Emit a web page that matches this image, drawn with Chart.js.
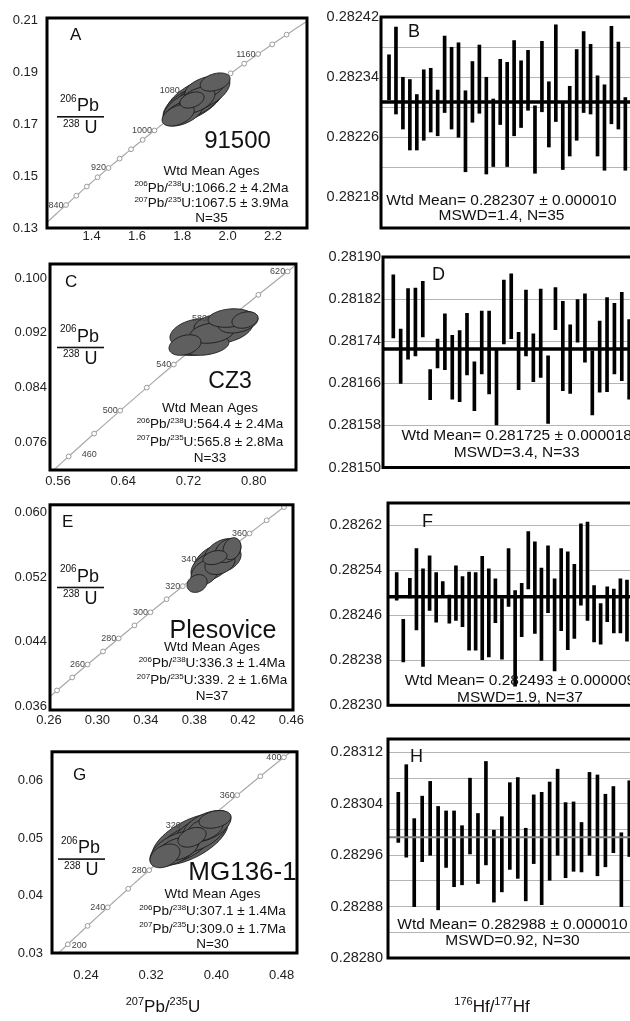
<!DOCTYPE html>
<html>
<head>
<meta charset="utf-8">
<title>Zircon U-Pb and Hf standards</title>
<script src="https://cdn.jsdelivr.net/npm/chart.js@4.4.1/dist/chart.umd.min.js"></script>
<style>
  html, body { margin: 0; padding: 0; background: #fff; }
  #fig { position: relative; width: 630px; height: 1021px; overflow: hidden; }
  #fig canvas { position: absolute; }
</style>
</head>
<body>
<div id="fig"></div>
<script>
const FONT = '"Liberation Sans", Arial, Helvetica, sans-serif';

// ---------- U-Pb concordia panels (left column) ----------
// error ellipses: [207Pb/235U, 206Pb/238U, 2s x, 2s y, rho]
const ticksA_x = [1.4, 1.6, 1.8, 2.0, 2.2];
const ticksA_y = [0.13, 0.15, 0.17, 0.19, 0.21];
const agesA = [840, 860, 880, 900, 920, 940, 960, 980, 1000, 1020, 1040, 1060, 1080, 1100, 1120, 1140, 1160, 1180, 1200];
const ageLabelsA = [840, 920, 1000, 1080, 1160];
const ellipsesA = [
  [1.856, 0.1795, 0.132, 0.00845, 0.60], [1.812, 0.1764, 0.097, 0.0065, 0.55],
  [1.913, 0.1826, 0.097, 0.0065, 0.55], [1.782, 0.1737, 0.071, 0.0042, 0.45],
  [1.945, 0.1864, 0.066, 0.0035, 0.35], [1.865, 0.1795, 0.079, 0.0050, 0.45],
  [1.843, 0.1795, 0.053, 0.0031, 0.35], [1.878, 0.1810, 0.106, 0.0069, 0.60],
  [1.826, 0.1779, 0.110, 0.0069, 0.60], [1.900, 0.1841, 0.088, 0.0046, 0.45],
  [1.803, 0.1745, 0.088, 0.0050, 0.50], [1.861, 0.1791, 0.119, 0.0073, 0.62]
];

const ticksC_x = [0.56, 0.64, 0.72, 0.80];
const ticksC_y = [0.076, 0.084, 0.092, 0.100];
const agesC = [460, 480, 500, 520, 540, 560, 580, 600, 620];
const ageLabelsC = [460, 500, 540, 580, 620];
const ellipsesC = [
  [0.7341, 0.09095, 0.0343, 0.00225, 0.35], [0.7648, 0.09270, 0.0343, 0.00225, 0.30],
  [0.7807, 0.09358, 0.0245, 0.00160, 0.30], [0.7157, 0.09022, 0.0196, 0.00150, 0.30],
  [0.7488, 0.09198, 0.0270, 0.00150, 0.25], [0.7562, 0.09314, 0.0294, 0.00165, 0.25],
  [0.7402, 0.09022, 0.0294, 0.00150, 0.25], [0.7893, 0.09387, 0.0160, 0.00120, 0.25],
  [0.7709, 0.09416, 0.0270, 0.00135, 0.20], [0.7280, 0.09197, 0.0307, 0.00210, 0.30]
];

const ticksE_x = [0.26, 0.30, 0.34, 0.38, 0.42, 0.46];
const ticksE_y = [0.036, 0.044, 0.052, 0.060];
const agesE = [240, 250, 260, 270, 280, 290, 300, 310, 320, 330, 340, 350, 360, 370, 380];
const ageLabelsE = [260, 280, 300, 320, 340, 360];
const ellipsesE = [
  [0.3954, 0.05382, 0.0165, 0.00223, 0.40], [0.4028, 0.05493, 0.01485, 0.00186, 0.38],
  [0.4077, 0.05531, 0.0107, 0.00149, 0.30], [0.3822, 0.05122, 0.0083, 0.00111, 0.20],
  [0.3888, 0.05258, 0.0116, 0.00161, 0.35], [0.3970, 0.05444, 0.0099, 0.00087, 0.30],
  [0.4061, 0.05432, 0.0124, 0.00161, 0.30], [0.4110, 0.05555, 0.0074, 0.00136, 0.20],
  [0.3912, 0.05333, 0.0140, 0.00173, 0.40], [0.4011, 0.05370, 0.0124, 0.00136, 0.30]
];

const ticksG_x = [0.24, 0.32, 0.40, 0.48];
const ticksG_y = [0.03, 0.04, 0.05, 0.06];
const agesG = [200, 220, 240, 260, 280, 300, 320, 340, 360, 380, 400];
const ageLabelsG = [200, 240, 280, 320, 360, 400];
const ellipsesG = [
  [0.3676, 0.04977, 0.0466, 0.00446, 0.60], [0.3492, 0.04808, 0.0307, 0.00309, 0.55],
  [0.3885, 0.05202, 0.0294, 0.00274, 0.50], [0.3369, 0.04688, 0.0184, 0.00206, 0.35],
  [0.3983, 0.05322, 0.0196, 0.00154, 0.30], [0.3701, 0.05011, 0.0172, 0.00171, 0.35],
  [0.3615, 0.04908, 0.0344, 0.00343, 0.58], [0.3799, 0.05080, 0.0344, 0.00343, 0.58],
  [0.3529, 0.04808, 0.0245, 0.00206, 0.40], [0.3860, 0.05151, 0.0221, 0.00206, 0.40]
];

// ---------- 176Hf/177Hf panels (right column): [low, high] per analysis ----------
const hfB = [
  [0.282310, 0.282370], [0.282291, 0.282407], [0.282271, 0.282340], [0.282243, 0.282337],
  [0.282243, 0.282317], [0.282256, 0.282350], [0.282267, 0.282352], [0.282262, 0.282323],
  [0.282293, 0.282395], [0.282271, 0.282380], [0.282260, 0.282386], [0.282214, 0.282322],
  [0.282280, 0.282361], [0.282292, 0.282383], [0.282211, 0.282340], [0.282221, 0.282311],
  [0.282277, 0.282364], [0.282221, 0.282360], [0.282262, 0.282389], [0.282273, 0.282362],
  [0.282296, 0.282376], [0.282212, 0.282302], [0.282294, 0.282388], [0.282247, 0.282334],
  [0.282281, 0.282410], [0.282217, 0.282306], [0.282235, 0.282328], [0.282256, 0.282377],
  [0.282293, 0.282401], [0.282291, 0.282384], [0.282235, 0.282342], [0.282216, 0.282330],
  [0.282278, 0.282408], [0.282271, 0.282387], [0.282216, 0.282313]
];
const hfD = [
  [0.281746, 0.281866], [0.281660, 0.281763], [0.281706, 0.281840], [0.281712, 0.281841],
  [0.281748, 0.281854], [0.281629, 0.281686], [0.281689, 0.281744], [0.281686, 0.281792],
  [0.281630, 0.281751], [0.281625, 0.281760], [0.281676, 0.281793], [0.281608, 0.281701],
  [0.281678, 0.281797], [0.281640, 0.281797], [0.281581, 0.281725], [0.281735, 0.281856],
  [0.281745, 0.281868], [0.281648, 0.281757], [0.281712, 0.281837], [0.281663, 0.281754],
  [0.281671, 0.281839], [0.281584, 0.281712], [0.281762, 0.281842], [0.281646, 0.281816],
  [0.281641, 0.281771], [0.281738, 0.281819], [0.281700, 0.281830], [0.281600, 0.281721],
  [0.281643, 0.281778], [0.281644, 0.281823], [0.281678, 0.281812], [0.281665, 0.281833],
  [0.281630, 0.281781]
];
const hfF = [
  [0.282487, 0.282536], [0.282377, 0.282453], [0.282491, 0.282526], [0.282434, 0.282579],
  [0.282369, 0.282543], [0.282469, 0.282566], [0.282448, 0.282536], [0.282493, 0.282520],
  [0.282446, 0.282496], [0.282451, 0.282548], [0.282440, 0.282529], [0.282398, 0.282537],
  [0.282398, 0.282536], [0.282381, 0.282565], [0.282386, 0.282543], [0.282447, 0.282525],
  [0.282382, 0.282490], [0.282476, 0.282579], [0.282334, 0.282504], [0.282422, 0.282517],
  [0.282507, 0.282609], [0.282428, 0.282591], [0.282380, 0.282544], [0.282465, 0.282584],
  [0.282361, 0.282525], [0.282433, 0.282579], [0.282399, 0.282573], [0.282419, 0.282551],
  [0.282478, 0.282623], [0.282451, 0.282626], [0.282413, 0.282513], [0.282409, 0.282481],
  [0.282449, 0.282511], [0.282429, 0.282507], [0.282429, 0.282525], [0.282414, 0.282523],
  [0.282440, 0.282530]
];
const hfH = [
  [0.282980, 0.283058], [0.282957, 0.283101], [0.282880, 0.283017], [0.282950, 0.283052],
  [0.282960, 0.283075], [0.282875, 0.283036], [0.282941, 0.283029], [0.282911, 0.283029],
  [0.282914, 0.283006], [0.282962, 0.283080], [0.282916, 0.283025], [0.282945, 0.283106],
  [0.282887, 0.282999], [0.282903, 0.283020], [0.282938, 0.283073], [0.282924, 0.283081],
  [0.282889, 0.283002], [0.282947, 0.283054], [0.282883, 0.283058], [0.282921, 0.283074],
  [0.282960, 0.283094], [0.282925, 0.283042], [0.282935, 0.283043], [0.282934, 0.283011],
  [0.282960, 0.283089], [0.282928, 0.283085], [0.282942, 0.283055], [0.282964, 0.283067],
  [0.282880, 0.282995], [0.282958, 0.283076]
];
const hfMeans = { B: 0.282307, D: 0.281725, F: 0.282493, H: 0.282988 };
const hfLabelsB = [0.28218, 0.28226, 0.28234, 0.28242];
const hfGridB = [0.28222, 0.28226, 0.28230, 0.28234, 0.28238];
const hfLabelsD = [0.28150, 0.28158, 0.28166, 0.28174, 0.28182, 0.28190];
const hfGridD = [0.28158, 0.28166, 0.28174, 0.28182];
const hfLabelsF = [0.28230, 0.28238, 0.28246, 0.28254, 0.28262];
const hfGridF = [0.28238, 0.28246, 0.28254, 0.28262];
const hfLabelsH = [0.28280, 0.28288, 0.28296, 0.28304, 0.28312];
const hfGridH = [0.28284, 0.28288, 0.28292, 0.28296, 0.28300, 0.28304, 0.28308, 0.28312];

// concordia from the U decay constants (per Ma)
const L238 = 1.55125e-4, L235 = 9.8485e-4;
const r206 = t => Math.expm1(L238 * t);
const r207 = t => Math.expm1(L235 * t);

function addCanvas(rect) {
  const c = document.createElement("canvas");
  c.width = rect[2];
  c.height = rect[3];
  c.style.left = rect[0] + "px";
  c.style.top = rect[1] + "px";
  c.style.width = rect[2] + "px";
  c.style.height = rect[3] + "px";
  document.getElementById("fig").appendChild(c);
  return c;
}

// text with superscript pieces: parts = [[text, isSup], ...]
function richText(ctx, parts, x, y, align, size) {
  const sup = Math.round(size * 0.62);
  let w = 0;
  parts.forEach(([t, s]) => {
    ctx.font = (s ? sup : size) + "px " + FONT;
    w += ctx.measureText(t).width;
  });
  let cx = align === "center" ? x - w / 2 : align === "right" ? x - w : x;
  ctx.textAlign = "left";
  ctx.textBaseline = "alphabetic";
  parts.forEach(([t, s]) => {
    ctx.font = (s ? sup : size) + "px " + FONT;
    ctx.fillText(t, cx, s ? y - size * 0.4 : y);
    cx += ctx.measureText(t).width;
  });
}

function plainText(ctx, t, x, y, align, size) {
  ctx.font = size + "px " + FONT;
  ctx.textAlign = align;
  ctx.textBaseline = "alphabetic";
  ctx.fillText(t, x, y);
}

function makeConcordia(p) {
  const [cx, cy, cw, ch] = p.canvas;
  const [fl, ft, fr, fb] = p.frame;
  const canvas = addCanvas(p.canvas);
  const curve = [];
  for (let t = p.curveSpan[0]; t <= p.curveSpan[1]; t += 5) curve.push({ x: r207(t), y: r206(t) });

  const plugin = {
    id: "concordiaExtras",
    afterDatasetsDraw(chart) {
      const { ctx, chartArea: a } = chart;
      const xs = chart.scales.x, ys = chart.scales.y;
      ctx.save();
      ctx.beginPath();
      ctx.rect(a.left, a.top, a.right - a.left, a.bottom - a.top);
      ctx.clip();
      const list = p.ellipses.slice().sort((m, n) => n[2] * n[3] - m[2] * m[3]);
      list.forEach(([ex, ey, sx, sy, rho]) => {
        const k = Math.sqrt(1 - rho * rho);
        ctx.beginPath();
        for (let i = 0; i <= 72; i++) {
          const t = (i / 72) * 2 * Math.PI;
          const px = xs.getPixelForValue(ex + sx * Math.cos(t));
          const py = ys.getPixelForValue(ey + sy * (rho * Math.cos(t) + k * Math.sin(t)));
          if (i === 0) ctx.moveTo(px, py); else ctx.lineTo(px, py);
        }
        ctx.closePath();
        ctx.fillStyle = "#5f5f5f";
        ctx.fill();
        ctx.lineWidth = 0.9;
        ctx.strokeStyle = "#1a1a1a";
        ctx.stroke();
      });
      // age labels on the concordia
      ctx.fillStyle = "#444";
      p.ageLabels.forEach(t => {
        const px = xs.getPixelForValue(r207(t));
        const py = ys.getPixelForValue(r206(t));
        const n = p.nudge[t] || {};
        ctx.font = "9px " + FONT;
        ctx.textBaseline = "alphabetic";
        if (n.right) {
          ctx.textAlign = "left";
          ctx.fillText(String(t), px + n.dx, py + n.dy);
        } else {
          ctx.textAlign = "right";
          ctx.fillText(String(t), px - 2.5 + (n.dx || 0), py + 2.5 + (n.dy || 0));
        }
      });
      ctx.restore();
    },
    afterDraw(chart) {
      const { ctx, chartArea: a } = chart;
      ctx.save();
      ctx.translate(-cx, -cy);
      ctx.strokeStyle = "#000";
      ctx.lineWidth = 3;
      ctx.strokeRect(a.left + cx, a.top + cy, a.right - a.left, a.bottom - a.top);
      ctx.fillStyle = "#111";
      plainText(ctx, p.letter, p.letterPos[0], p.letterPos[1], "left", 17);
      // 206Pb / 238U label
      const fx = p.frac[0], pb = p.frac[1];
      plainText(ctx, "206", fx, pb - 9.5, "left", 10);
      plainText(ctx, "Pb", fx + 17, pb, "left", 18);
      plainText(ctx, "238", fx + 3, pb + 15.5, "left", 10);
      plainText(ctx, "U", fx + 24.5, pb + 22, "left", 18);
      ctx.fillRect(fx - 3, pb + 5, 47, 1.6);
      plainText(ctx, p.name, p.namePos[0], p.namePos[1], "center", p.namePos[2]);
      const bx = p.block[0], by = p.block.slice(1);
      plainText(ctx, "Wtd Mean Ages", bx, by[0], "center", 13.5);
      richText(ctx, [["206", 1], ["Pb/", 0], ["238", 1], ["U:" + p.age206, 0]], bx, by[1], "center", 13.5);
      richText(ctx, [["207", 1], ["Pb/", 0], ["235", 1], ["U:" + p.age207, 0]], bx, by[2], "center", 13.5);
      plainText(ctx, p.n, bx, by[3], "center", 13.5);
      if (p.title) richText(ctx, [["207", 1], ["Pb/", 0], ["235", 1], ["U", 0]], p.title[0], p.title[1], "center", 17);
      ctx.restore();
    }
  };

  new Chart(canvas, {
    type: "scatter",
    data: {
      datasets: [
        { data: curve, showLine: true, borderColor: "#a9a9a9", borderWidth: 1.2, pointRadius: 0, order: 2 },
        {
          data: p.ages.map(t => ({ x: r207(t), y: r206(t) })),
          showLine: false, pointRadius: 2.4, pointBorderWidth: 1,
          pointBorderColor: "#9a9a9a", pointBackgroundColor: "#fff", order: 1
        }
      ]
    },
    options: {
      responsive: false,
      animation: false,
      devicePixelRatio: 1,
      layout: { padding: { left: 0, top: ft - cy, right: cx + cw - fr, bottom: 0 } },
      plugins: { legend: { display: false }, tooltip: { enabled: false } },
      scales: {
        x: {
          type: "linear", min: p.xRange[0], max: p.xRange[1],
          grid: { display: false, drawTicks: false }, border: { display: false },
          afterFit: s => { s.height = cy + ch - fb; },
          afterBuildTicks: s => { s.ticks = p.xTicks.map(v => ({ value: v })); },
          ticks: {
            autoSkip: false, maxRotation: 0, padding: p.xPad, color: "#222",
            font: { family: FONT, size: 13 }, callback: v => v.toFixed(p.xDec)
          }
        },
        y: {
          type: "linear", min: p.yRange[0], max: p.yRange[1],
          grid: { display: false, drawTicks: false }, border: { display: false },
          afterFit: s => { s.width = fl - cx; },
          afterBuildTicks: s => { s.ticks = p.yTicks.map(v => ({ value: v })); },
          ticks: {
            autoSkip: false, padding: p.yPad, color: "#222",
            font: { family: FONT, size: 13 }, callback: v => v.toFixed(p.yDec)
          }
        }
      }
    },
    plugins: [plugin]
  });
}

function makeHf(p) {
  const [cx, cy, cw, ch] = p.canvas;
  const [fl, ft, fr, fb] = p.frame;
  const canvas = addCanvas(p.canvas);
  const tickVals = Array.from(new Set(p.labels.concat(p.grid).map(v => v.toFixed(5)))).map(Number);
  const has = (list, v) => list.some(g => Math.abs(g - v) < 1e-9);

  const plugin = {
    id: "hfExtras",
    afterDatasetsDraw(chart) {
      const { ctx, chartArea: a } = chart;
      const py = chart.scales.y.getPixelForValue(p.mean);
      ctx.save();
      ctx.strokeStyle = p.meanColor;
      ctx.lineWidth = p.meanWidth;
      ctx.beginPath();
      ctx.moveTo(a.left, py);
      ctx.lineTo(a.right, py);
      ctx.stroke();
      ctx.restore();
    },
    afterDraw(chart) {
      const { ctx, chartArea: a } = chart;
      ctx.save();
      ctx.translate(-cx, -cy);
      ctx.strokeStyle = "#000";
      ctx.lineWidth = 3;
      ctx.strokeRect(a.left + cx, a.top + cy, a.right - a.left, a.bottom - a.top);
      ctx.fillStyle = "#111";
      plainText(ctx, p.letter, p.letterPos[0], p.letterPos[1], "left", 18);
      plainText(ctx, p.wtd, p.textPos[0], p.textPos[1], "center", 15.5);
      plainText(ctx, p.mswd, p.textPos[0], p.textPos[2], "center", 15.5);
      if (p.title) richText(ctx, [["176", 1], ["Hf/", 0], ["177", 1], ["Hf", 0]], p.title[0], p.title[1], "center", 17);
      ctx.restore();
    }
  };

  new Chart(canvas, {
    type: "bar",
    data: {
      datasets: [{
        data: p.values.map((v, i) => ({ x: i + 1, y: v })),
        backgroundColor: "#000", borderWidth: 0, barThickness: 3
      }]
    },
    options: {
      responsive: false,
      animation: false,
      devicePixelRatio: 1,
      layout: { padding: { left: 0, top: ft - cy, right: cx + cw - fr, bottom: cy + ch - fb } },
      plugins: { legend: { display: false }, tooltip: { enabled: false } },
      scales: {
        x: { type: "linear", display: false, offset: false, min: p.xRange[0], max: p.xRange[1] },
        y: {
          type: "linear", min: p.yRange[0], max: p.yRange[1], beginAtZero: false,
          border: { display: false },
          grid: {
            drawTicks: false, lineWidth: 1,
            color: c => (c.tick && has(p.grid, c.tick.value) ? "#b4b4b4" : "rgba(0,0,0,0)")
          },
          afterFit: s => { s.width = fl - cx; },
          afterBuildTicks: s => { s.ticks = tickVals.map(v => ({ value: v })); },
          ticks: {
            autoSkip: false, padding: p.yPad, color: "#222",
            font: { family: FONT, size: 14.5 },
            callback: v => (has(p.labels, v) ? v.toFixed(5) : "")
          }
        }
      }
    },
    plugins: [plugin]
  });
}

document.addEventListener("DOMContentLoaded", () => {
  makeConcordia({
    canvas: [0, 0, 320, 252], frame: [47, 18, 307, 228],
    xRange: [1.2033, 2.3502], yRange: [0.130346, 0.210991],
    xTicks: ticksA_x, yTicks: ticksA_y, xDec: 1, yDec: 2, xPad: 1, yPad: 9,
    ellipses: ellipsesA, ages: agesA, ageLabels: ageLabelsA, curveSpan: [760, 1280],
    nudge: { 1080: { dx: -22, dy: -2 } },
    letter: "A", letterPos: [70, 40], frac: [60, 111],
    name: "91500", namePos: [237.5, 148.3, 24],
    block: [211.5, 175, 191.7, 207.3, 222.3],
    age206: "1066.2 ± 4.2Ma", age207: "1067.5 ± 3.9Ma", n: "N=35"
  });
  makeConcordia({
    canvas: [0, 246, 320, 246], frame: [50, 264, 296, 470],
    xRange: [0.55019, 0.85181], yRange: [0.071987, 0.102043],
    xTicks: ticksC_x, yTicks: ticksC_y, xDec: 2, yDec: 3, xPad: 4, yPad: 3,
    ellipses: ellipsesC, ages: agesC, ageLabels: ageLabelsC, curveSpan: [400, 700],
    nudge: { 460: { right: true, dx: 13, dy: 1 }, 580: { dx: -20, dy: 0 } },
    letter: "C", letterPos: [65, 286.7], frac: [60, 341.7],
    name: "CZ3", namePos: [230, 388.3, 23],
    block: [210, 411.7, 428.3, 445.7, 461.7],
    age206: "564.4 ± 2.4Ma", age207: "565.8 ± 2.8Ma", n: "N=33"
  });
  makeConcordia({
    canvas: [0, 494, 320, 238], frame: [50, 504, 293, 710],
    xRange: [0.26086, 0.46136], yRange: [0.0355, 0.0610],
    xTicks: ticksE_x, yTicks: ticksE_y, xDec: 2, yDec: 3, xPad: 2.5, yPad: 3,
    ellipses: ellipsesE, ages: agesE, ageLabels: ageLabelsE, curveSpan: [200, 420],
    nudge: { 340: { dx: -17, dy: 0 } },
    letter: "E", letterPos: [62, 526.7], frac: [60, 581.7],
    name: "Plesovice", namePos: [223, 638, 25],
    block: [212, 650.7, 667.3, 684.3, 700],
    age206: "336.3 ± 1.4Ma", age207: "339. 2 ± 1.6Ma", n: "N=37"
  });
  makeConcordia({
    canvas: [0, 735, 320, 286], frame: [52, 749, 297, 953],
    xRange: [0.1983, 0.4989], yRange: [0.03, 0.06497],
    xTicks: ticksG_x, yTicks: ticksG_y, xDec: 2, yDec: 2, xPad: 14.7, yPad: 9,
    ellipses: ellipsesG, ages: agesG, ageLabels: ageLabelsG, curveSpan: [150, 460],
    nudge: { 200: { right: true, dx: 4, dy: 4 }, 320: { dx: -9, dy: -7 } },
    letter: "G", letterPos: [73, 780], frac: [61, 853.3],
    name: "MG136-1", namePos: [242.5, 880, 26],
    block: [212.5, 897.7, 915, 932.7, 948.3],
    age206: "307.1 ± 1.4Ma", age207: "309.0 ± 1.7Ma", n: "N=30",
    title: [163, 1012]
  });

  makeHf({
    canvas: [322, 0, 328, 240], frame: [381, 17, 645, 228],
    yRange: [0.282139, 0.2824204], xRange: [-0.153, 37.83],
    values: hfB, labels: hfLabelsB, grid: hfGridB, mean: hfMeans.B,
    meanColor: "#000", meanWidth: 3.5, yPad: 2,
    letter: "B", letterPos: [408, 37],
    wtd: "Wtd Mean= 0.282307 ± 0.000010", mswd: "MSWD=1.4, N=35", textPos: [501.5, 205, 220]
  });
  makeHf({
    canvas: [322, 245, 328, 235], frame: [383, 257, 645, 467.5],
    yRange: [0.28150, 0.28190], xRange: [-0.398, 35.15],
    values: hfD, labels: hfLabelsD, grid: hfGridD, mean: hfMeans.D,
    meanColor: "#000", meanWidth: 3.5, yPad: 2,
    letter: "D", letterPos: [432, 280],
    wtd: "Wtd Mean= 0.281725 ± 0.000018", mswd: "MSWD=3.4, N=33", textPos: [516.7, 440, 456.7]
  });
  makeHf({
    canvas: [322, 488, 328, 232], frame: [388, 503, 645, 709],
    yRange: [0.28230, 0.282660], xRange: [-0.322, 38.74],
    values: hfF, labels: hfLabelsF, grid: hfGridF, mean: hfMeans.F,
    meanColor: "#000", meanWidth: 3.5, yPad: 6,
    letter: "F", letterPos: [422, 527],
    wtd: "Wtd Mean= 0.282493 ± 0.000009", mswd: "MSWD=1.9, N=37", textPos: [520, 685, 701.7]
  });
  makeHf({
    canvas: [322, 725, 328, 296], frame: [388, 739, 645, 958],
    yRange: [0.28280, 0.283141], xRange: [-0.293, 31.97],
    values: hfH, labels: hfLabelsH, grid: hfGridH, mean: hfMeans.H,
    meanColor: "#808080", meanWidth: 2, yPad: 5,
    letter: "H", letterPos: [410, 762],
    wtd: "Wtd Mean= 0.282988 ± 0.000010", mswd: "MSWD=0.92, N=30", textPos: [512.5, 929.3, 945],
    title: [492, 1012]
  });
});
</script>
</body>
</html>
